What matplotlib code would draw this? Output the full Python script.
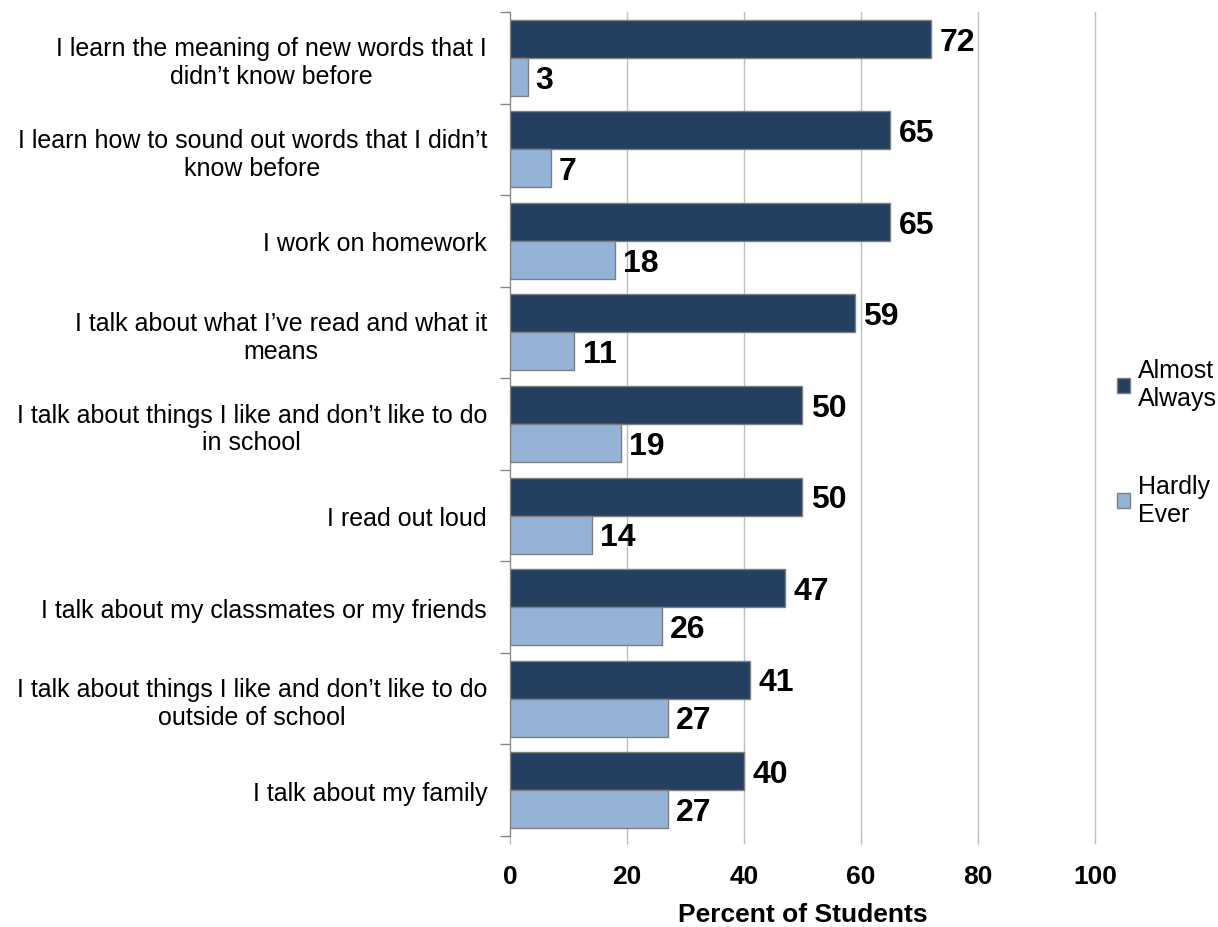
import matplotlib.pyplot as plt
import numpy as np

plt.rcParams['font.family'] = ['Liberation Sans', 'DejaVu Sans']

items = [
    "I learn the meaning of new words that I\ndidn\u2019t know before",
    "I learn how to sound out words that I didn\u2019t\nknow before",
    "I work on homework",
    "I talk about what I\u2019ve read and what it\nmeans",
    "I talk about things I like and don\u2019t like to do\nin school",
    "I read out loud",
    "I talk about my classmates or my friends",
    "I talk about things I like and don\u2019t like to do\noutside of school",
    "I talk about my family",
]
almost_always = [72, 65, 65, 59, 50, 50, 47, 41, 40]
hardly_ever = [3, 7, 18, 11, 19, 14, 26, 27, 27]
xticks = [0, 20, 40, 60, 80, 100]

dark = '#243F60'
light = '#95B3D7'
edge = '#7F7F7F'

fig = plt.figure(figsize=(12.18, 9.28), dpi=100)
ax = fig.add_axes([0.4187, 0.098, 0.4803, 0.888])

y = np.arange(len(items))
h = 0.415
b1 = ax.barh(y - h/2, almost_always, height=h, color=dark, edgecolor=edge, linewidth=1, label='Almost\nAlways', zorder=3)
b2 = ax.barh(y + h/2, hardly_ever, height=h, color=light, edgecolor=edge, linewidth=1, label='Hardly\nEver', zorder=3)

for bars, vals in ((b1, almost_always), (b2, hardly_ever)):
    for bar, v in zip(bars, vals):
        ax.text(v + 1.4, bar.get_y() + bar.get_height()/2 + 0.03, str(v), va='center', ha='left',
                fontsize=23, fontweight='bold')

ax.set_ylim(len(items) - 0.5, -0.5)
ax.set_xlim(0, 100)
ax.set_yticks(y)
ax.set_yticklabels(items, fontsize=18, linespacing=1.2, multialignment='center')
ax.set_yticks(np.arange(-0.5, len(items)), minor=True)
ax.tick_params(axis='y', which='major', length=0, pad=16.5)
ax.tick_params(axis='y', which='minor', length=7, color='#868686', width=1)

ax.set_xticks(xticks)
ax.set_xticklabels([str(t) for t in xticks], fontsize=19, fontweight='bold')
ax.tick_params(axis='x', length=6, color='#BFBFBF', width=1, pad=14)
ax.xaxis.grid(True, color='#BFBFBF', linewidth=1, zorder=0)
for gl in ax.get_xgridlines():
    gl.set_clip_on(False)
ax.set_xlabel('Percent of Students', fontsize=19, fontweight='bold', labelpad=10)

for s in ('top', 'right', 'bottom'):
    ax.spines[s].set_visible(False)
ax.spines['left'].set_color('#868686')

ax.legend(loc='center left', bbox_to_anchor=(1.037, 0.478), frameon=False, fontsize=18,
          borderaxespad=0, borderpad=0,
          handlelength=0.55, handleheight=0.55, handletextpad=0.3, labelspacing=2.55)

fig.savefig('out.png', dpi=100)
